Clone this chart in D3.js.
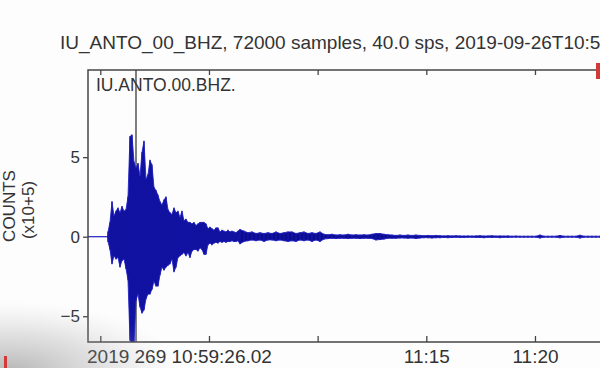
<!DOCTYPE html>
<html><head><meta charset="utf-8">
<script src="https://cdn.jsdelivr.net/npm/d3@7"></script>
<style>html,body{margin:0;padding:0;background:#fdfdfd;} svg{display:block;font-family:"Liberation Sans",Arial,sans-serif;}</style>
</head><body><svg id="c" width="600" height="368"></svg>
<script>
// ---- data ----
const titleText = "IU_ANTO_00_BHZ, 72000 samples, 40.0 sps, 2019-09-26T10:59:26.020000Z - 2019-09-26T11:29:25.995000Z";
const stationLabel = "IU.ANTO.00.BHZ.";
const startTime = "2019-09-26T10:59:26.020Z";
const durationSec = 1800;            // 72000 samples / 40 sps
const startLabel = "2019 269 10:59:26.02";
const xLabeledTicks = ["11:15", "11:20"];
const yTicks = [-5, 0, 5];
const yDomain = [-6.62, 10.48];      // counts x10^5
const yLabel = ["COUNTS", "(x10+5)"];
const markerSec = 132.5;             // pick line (s after start)

// envelope of the trace, counts x10^5: max / min per sample
const burstStartSec = 55.2, burstStepSec = 5.52;
const burstHi = [0.3,0.9,2.2,1.3,1.6,1.8,1.5,1.9,1.6,1.7,2.5,6.3,6.4,4.7,4.3,4.6,3.8,5.3,6.0,3.6,3.9,4.8,4.5,3.1,2.9,2.6,2.2,2.0,2.3,2.5,1.7,1.5,1.4,1.8,1.5,1.6,1.2,1.6,1.0,1.1,0.9,0.9,0.8,0.9,0.7,0.8,0.9,0.9,0.9,0.8,0.5,0.6,0.5,0.4,0.55,0.55,0.3,0.4,0.35,0.3,0.4,0.3,0.35,0.3,0.25,0.35,0.45];
const burstLo = [-0.3,-0.8,-1.7,-1.2,-1.4,-1.3,-1.9,-1.5,-1.4,-2.0,-2.7,-6.5,-6.8,-6.6,-4.0,-3.6,-4.4,-4.8,-4.6,-3.9,-3.6,-3.6,-3.3,-2.8,-3.1,-3.1,-2.4,-1.9,-2.1,-1.9,-1.8,-1.7,-1.4,-2.2,-1.9,-1.3,-1.2,-1.1,-1.0,-1.2,-1.0,-1.3,-0.9,-0.8,-0.8,-0.9,-0.7,-0.8,-1.1,-1.1,-0.5,-0.4,-0.5,-0.4,-0.35,-0.4,-0.3,-0.35,-0.3,-0.35,-0.3,-0.3,-0.25,-0.3,-0.3,-0.25,-0.45];
const codaStartSec = 430.7, codaStepSec = 11.04;
const codaHi = [0.35,0.25,0.3,0.2,0.25,0.2,0.25,0.2,0.3,0.2,0.25,0.3,0.3,0.2,0.25,0.3,0.2,0.25,0.2,0.3,0.15,0.12,0.15,0.1,0.12,0.1,0.15,0.1,0.12,0.1,0.12,0.1,0.15,0.2,0.2,0.15,0.12,0.1,0.08,0.1,0.08,0.1,0.08,0.1,0.08,0.06,0.08,0.06,0.08,0.06,0.05,0.06,0.05,0.06,0.05,0.04,0.05,0.04,0.05,0.06,0.04,0.05,0.06,0.04,0.05,0.04,0.05,0.03,0.04,0.03,0.03,0.03,0.03,0.03,0.1,0.03,0.03,0.03,0.03,0.08,0.03,0.03,0.03,0.03,0.09,0.03,0.03,0.03,0.03,0.03];
const codaLo = [-0.3,-0.25,-0.2,-0.25,-0.2,-0.3,-0.2,-0.2,-0.25,-0.2,-0.25,-0.3,-0.25,-0.3,-0.2,-0.25,-0.2,-0.3,-0.2,-0.3,-0.15,-0.12,-0.1,-0.12,-0.1,-0.1,-0.12,-0.1,-0.1,-0.12,-0.1,-0.1,-0.12,-0.2,-0.18,-0.15,-0.1,-0.1,-0.1,-0.08,-0.08,-0.1,-0.08,-0.12,-0.08,-0.06,-0.06,-0.08,-0.06,-0.06,-0.05,-0.06,-0.05,-0.04,-0.05,-0.05,-0.04,-0.04,-0.05,-0.05,-0.06,-0.04,-0.05,-0.04,-0.06,-0.04,-0.05,-0.03,-0.03,-0.03,-0.03,-0.03,-0.03,-0.03,-0.08,-0.03,-0.03,-0.03,-0.03,-0.07,-0.03,-0.03,-0.03,-0.03,-0.08,-0.03,-0.03,-0.03,-0.03,-0.03];

// ---- chart ----
const svg = d3.select("#c");
const W = 600, H = 368;
const m = {left: 88, top: 70, bottom: 342, right: 740};
const t0 = new Date(startTime);
const tAt = s => new Date(t0.getTime() + s * 1000);
const x = d3.scaleUtc().domain([t0, tAt(durationSec)]).range([m.left, m.right]);
const y = d3.scaleLinear().domain(yDomain).range([m.bottom, m.top]);
const textCol = "#333", frameCol = "#454545";

svg.append("rect").attr("width", W).attr("height", H).attr("fill", "#fdfdfd");

// defs
const defs = svg.append("defs");
defs.append("clipPath").attr("id", "plotclip").append("rect")
  .attr("x", m.left).attr("y", m.top).attr("width", m.right - m.left).attr("height", m.bottom - m.top);
const rg = defs.append("radialGradient").attr("id", "shade")
  .attr("cx", 0.05).attr("cy", 1.05).attr("r", 0.9);
rg.append("stop").attr("offset", "0%").attr("stop-color", "#7a7a7a").attr("stop-opacity", 0.55);
rg.append("stop").attr("offset", "55%").attr("stop-color", "#9a9a9a").attr("stop-opacity", 0.28);
rg.append("stop").attr("offset", "100%").attr("stop-color", "#bbbbbb").attr("stop-opacity", 0);

// title
svg.append("text").attr("x", 60).attr("y", 49).attr("fill", textCol)
  .attr("font-size", 19).text(titleText);

// marker line
svg.append("line").attr("x1", x(tAt(markerSec))).attr("x2", x(tAt(markerSec)))
  .attr("y1", m.top).attr("y2", m.bottom).attr("stroke", "#3a3a3a").attr("stroke-width", 1.3);

// trace samples (time, hi, lo)
const samples = [[0, 0, 0], [burstStartSec - 1, 0, 0]];
burstHi.forEach((h, i) => samples.push([burstStartSec + i * burstStepSec, h, burstLo[i]]));
codaHi.forEach((h, i) => samples.push([codaStartSec + i * codaStepSec, h, codaLo[i]]));

const g = svg.append("g").attr("clip-path", "url(#plotclip)");
const area = d3.area().x(d => x(tAt(d[0]))).y0(d => y(d[2])).y1(d => y(d[1]));
g.append("path").attr("d", area(samples)).attr("fill", "#0b0b90")
  .attr("stroke", "#2626c8").attr("stroke-width", 0.9).attr("stroke-linejoin", "round");
// min-max spikes per sample
g.selectAll("line.s").data(samples).join("line").attr("class", "s")
  .attr("x1", d => x(tAt(d[0]))).attr("x2", d => x(tAt(d[0])))
  .attr("y1", d => y(d[1]) - 0.5).attr("y2", d => y(d[2]) + 0.5)
  .attr("stroke", "#1818b0").attr("stroke-width", 1.1);

// frame
svg.append("rect").attr("x", m.left).attr("y", m.top).attr("width", m.right - m.left)
  .attr("height", m.bottom - m.top).attr("fill", "none").attr("stroke", frameCol).attr("stroke-width", 1.5);

// axes
const fmt = d3.utcFormat("%H:%M");
const xb = svg.append("g").attr("transform", `translate(0,${m.bottom})`)
  .call(d3.axisBottom(x).ticks(d3.utcMinute.every(5)).tickSizeInner(-6).tickSizeOuter(0).tickPadding(7.5)
    .tickFormat(d => xLabeledTicks.includes(fmt(d)) ? fmt(d) : ""));
const xt = svg.append("g").attr("transform", `translate(0,${m.top})`)
  .call(d3.axisTop(x).ticks(d3.utcMinute.every(5)).tickSizeInner(-5).tickSizeOuter(0).tickFormat(""));
const yl = svg.append("g").attr("transform", `translate(${m.left},0)`)
  .call(d3.axisLeft(y).tickValues(yTicks).tickSizeInner(5).tickSizeOuter(0).tickPadding(3).tickFormat(d3.format("d")));
[xb, xt, yl].forEach(a => {
  a.select(".domain").remove();
  a.selectAll(".tick line").attr("stroke", frameCol).attr("stroke-width", 1.3);
  a.selectAll(".tick text").attr("fill", textCol).attr("font-family", "Liberation Sans, Arial, sans-serif");
});
xb.selectAll(".tick text").attr("font-size", 19);
xb.selectAll(".tick text").filter(function () { return this.textContent === ""; }).remove();
yl.selectAll(".tick text").attr("font-size", 17);

// start time label
svg.append("text").attr("x", m.left - 1).attr("y", 363).attr("fill", textCol)
  .attr("font-size", 19).text(startLabel);

// station label inside
svg.append("text").attr("x", 96).attr("y", 91).attr("fill", textCol)
  .attr("font-size", 17.5).text(stationLabel);

// y label
svg.append("text").attr("transform", "translate(15,206) rotate(-90)").attr("text-anchor", "middle")
  .attr("fill", textCol).attr("font-size", 17).text(yLabel[0]);
svg.append("text").attr("transform", "translate(34,210) rotate(-90)").attr("text-anchor", "middle")
  .attr("fill", textCol).attr("font-size", 17).text(yLabel[1]);

// video overlay artefacts
svg.append("rect").attr("x", 0).attr("y", 290).attr("width", 190).attr("height", 78).attr("fill", "url(#shade)");
svg.append("rect").attr("x", 4).attr("y", 356).attr("width", 3).attr("height", 12).attr("fill", "#d23a3a");
svg.append("rect").attr("x", 596).attr("y", 63).attr("width", 4).attr("height", 16).attr("fill", "#d23a3a");
</script></body></html>
